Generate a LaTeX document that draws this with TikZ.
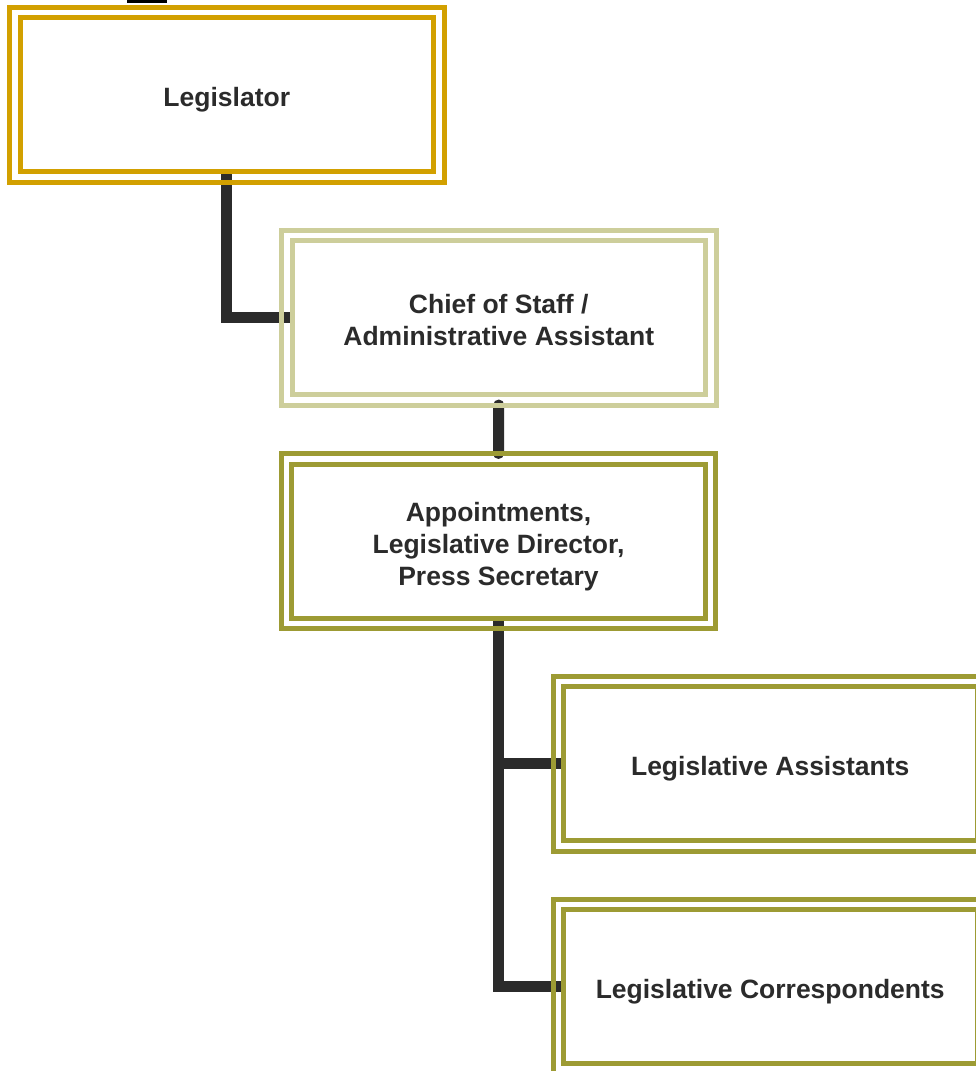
\documentclass[tikz,border=0pt]{standalone}
\usepackage{fontspec}
\setmainfont{Liberation Sans}
\usetikzlibrary{backgrounds}
\definecolor{gold}{RGB}{210,160,0}
\definecolor{sage}{RGB}{205,206,155}
\definecolor{moss}{RGB}{157,155,52}
\definecolor{ink}{RGB}{43,43,43}
\newcommand{\uprule}{\rule{0pt}{30pt}}
\newcommand{\downrule}{\rule[-6pt]{0pt}{6pt}}
\begin{document}
\begin{tikzpicture}[x=1pt,y=-1pt]
\tikzstyle{link}=[line width=11pt,color=ink]
\tikzset{post/.style={draw=#1,line width=5pt,fill=white,outer sep=0pt,inner sep=0pt,
minimum width=413.5pt,minimum height=154pt,align=center,text=ink,
font=\fontsize{26.5}{32}\selectfont\bfseries,
append after command={\pgfextra{\draw[#1,line width=5pt]
([shift={(-10.5pt,10.5pt)}]\tikzlastnode.north west) rectangle
([shift={(10.5pt,-10.5pt)}]\tikzlastnode.south east);}}},
post/.default={moss}}
\useasboundingbox (0,0) rectangle (976,1071);
\fill[black] (127,0) rectangle (167,3);
\node [post=gold] (legislator) at (226.75,94.75) {\uprule Legislator\downrule};
\node [post=sage] (chief) at (498.75,317.5) {\uprule Chief of Staff /\\Administrative Assistant\downrule};
\node [post] (appointments) at (498.5,541) {\uprule Appointments,\\Legislative Director,\\Press Secretary\downrule};
\node [post] (assistants) at (770.25,763.5) {\uprule Legislative Assistants\downrule};
\node [post] (correspondents) at (770.25,986.5) {\uprule Legislative Correspondents\downrule};
\begin{scope}[on background layer]
\draw[link] (legislator) |- (chief);
\draw[link,line cap=round] ([yshift=-10.5pt]chief.south) -- ([yshift=10.5pt]appointments.north);
\draw[link] (appointments) |- (assistants);
\draw[link] (appointments) |- (correspondents);
\end{scope}
\end{tikzpicture}
\end{document}
